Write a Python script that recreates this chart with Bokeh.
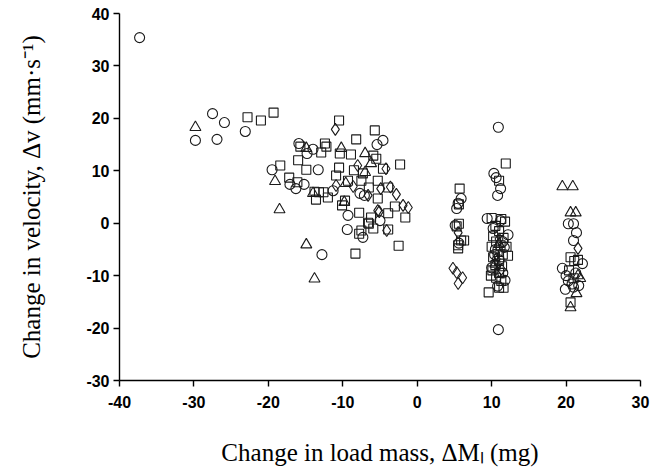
from bokeh.plotting import figure
from bokeh.models import Range1d, FixedTicker
from bokeh.embed import file_html
from bokeh.resources import INLINE

# ---- data ----
circle_x = [-37.3, -29.8, -27.5, -26.9, -25.9, -23.1, -19.5, -17.1, -16.3, -15.2, -15.9, -14.8, -14.0,
            -13.3, -11.3, -9.3, -9.4, -7.7, -7.1, -7.3, -5.4, -4.6, -5.0, -12.8,
            5.9, 5.5, 5.3, 5.1, 5.6,
            10.9, 10.3, 10.6, 11.2, 10.8, 9.4, 12.2, 11.8, 10.9, 10.2, 11.5, 10.5, 11.0, 10.0, 11.5,
            10.8, 11.2, 10.4, 11.7,
            20.3, 21.0, 21.4, 21.0, 22.2, 19.5, 20.0, 20.3, 20.8, 21.0, 21.7, 21.3, 19.9]
circle_y = [35.4, 15.8, 20.9, 16.0, 19.2, 17.5, 10.2, 7.4, 6.6, 7.4, 15.2, 13.3, 14.1,
            10.2, 6.2, 1.5, -1.2, 5.7, 5.3, -2.7, 15.0, 15.8, 0.5, -6.0,
            4.7, 3.8, 2.8, -0.4, -3.8,
            18.3, 9.5, 8.7, 6.6, 5.3, 0.9, -2.2, -10.9, -20.3, -1.0, -3.5, -5.0, -7.0, -8.5, -9.5,
            -12.0, 0.5, -6.0, -4.6,
            -0.1, -0.1, -1.8, -3.3, -7.7, -8.6, -10.0, -11.0, -11.6, -12.2, -11.9, -9.5, -12.6]

square_x = [-22.8, -21.0, -19.3, -18.4, -17.2, -16.1, -16.0, -15.7, -14.9, -12.9, -12.4, -12.2, -13.8,
            -13.2, -13.6, -12.6, -12.0, -10.5, -10.4, -8.9, -8.2, -10.5, -10.9, -9.7, -10.1, -8.5,
            -9.3, -7.5, -7.8, -7.5, -7.3, -6.5, -6.5, -5.9, -5.5, -5.7, -4.6, -5.3, -5.3, -5.9, -3.9,
            -2.3, -3.0, -1.6, -3.9, -3.9, -2.5, -6.6, -8.3, -6.2, -7.8,
            5.7, 5.6, 5.6, 5.3, 5.9, 6.3, 5.5, 5.5,
            11.9, 11.0, 12.2, 9.6, 11.0, 11.6, 10.0, 11.3, 11.8, 10.5, 11.0, 10.2, 11.6, 10.6, 11.2,
            10.0, 12.0, 10.8, 11.5, 10.2, 11.0, 10.5, 11.4, 10.1, 11.0, 10.6, 9.9, 11.3,
            20.6, 21.1, 21.6, 20.6, 20.4, 21.0]
square_y = [20.2, 19.6, 21.1, 11.0, 8.7, 7.8, 12.0, 14.6, 10.2, 13.5, 15.2, 14.6, 6.0,
            5.9, 4.5, 5.9, 4.9, 19.6, 13.3, 13.1, 16.0, 10.6, 9.1, 4.3, 3.4, 10.1,
            8.1, 8.1, 2.0, -1.4, 9.5, 6.8, -0.1, 12.9, 12.3, 17.7, 10.4, 8.1, 4.7, -1.0, 6.8,
            11.2, 3.2, 1.1, 1.9, -1.2, -4.3, 0.1, -5.8, 1.1, -2.0,
            6.6, 3.6, -0.1, -0.6, -3.3, -3.3, -4.8, -4.2,
            11.4, 8.1, -6.2, -13.2, -12.3, -12.3, 1.0, 0.8, 0.3, -0.5, -1.5, -2.5, -2.8, -3.5, -4.2,
            -4.5, -4.5, -5.5, -6.0, -6.5, -7.2, -8.0, -8.2, -9.0, -9.5, -10.4, -10.0, -11.0,
            -6.5, -7.2, -7.0, -15.1, -9.0, -10.5]

triangle_x = [-29.8, -19.1, -18.5, -14.9, -14.0, -10.2, -9.6, -9.8, -7.0, -7.0, -6.2, -14.9, -13.8,
              11.0, 10.5,
              19.5, 20.9, 20.6, 21.3, 21.6, 21.9, 21.4, 20.6]
triangle_y = [18.3, 8.0, 2.6, 14.3, 5.7, 14.3, 7.6, 4.0, 13.3, 9.7, 11.4, -4.1, -10.6,
              -4.0, -7.8,
              7.0, 7.0, 2.0, 2.0, -10.0, -10.5, -13.4, -16.1]

diamond_x = [-11.0, -10.9, -8.0, -6.6, -4.2, -4.9, -5.1, -4.1, -1.9, -1.2, -3.6, -2.8, -5.3, -8.6,
             5.5, 4.8, 5.3, 6.1, 5.5,
             11.0, 10.6, 11.3,
             21.6]
diamond_y = [17.9, 7.2, 11.0, 5.3, 10.4, 6.6, 2.2, -1.4, 3.4, 3.0, 6.9, 5.5, 2.4, 7.0,
             -1.8, -8.6, -9.4, -10.4, -11.5,
             -3.0, -6.8, -8.8,
             -4.8]

x_ticks = [-40, -30, -20, -10, 0, 10, 20, 30]
y_ticks = [-30, -20, -10, 0, 10, 20, 30, 40]
x_tick_labels = ["-40", "-30", "-20", "-10", "0", "10", "20", "30"]
y_tick_labels = ["-30", "-20", "-10", "0", "10", "20", "30", "40"]

x_label = "Change in load mass, \u0394M\u2097 (mg)"
y_label = "Change in velocity, \u0394v (mm\u00b7s\u207b\u00b9)"

p = figure(width=662, height=469, output_backend="svg", toolbar_location=None,
           x_range=Range1d(-40, 30), y_range=Range1d(-30, 40),
           min_border_left=119, min_border_right=22, min_border_top=13, min_border_bottom=89)

p.grid.visible = False
p.outline_line_color = None
p.background_fill_color = "white"
p.border_fill_color = "white"

mk = dict(fill_color=None, line_color="#1a1a1a", line_width=1.1)
p.scatter(circle_x, circle_y, marker="circle", size=10, **mk)
p.scatter(square_x, square_y, marker="square", size=9, **mk)
p.scatter(triangle_x, triangle_y, marker="triangle", size=11, **mk)
p.scatter(diamond_x, diamond_y, marker="diamond", size=12, **mk)

p.xaxis.ticker = FixedTicker(ticks=x_ticks)
p.yaxis.ticker = FixedTicker(ticks=y_ticks)
p.xaxis.major_label_overrides = {t: s for t, s in zip(x_ticks, x_tick_labels)}
p.yaxis.major_label_overrides = {t: s for t, s in zip(y_ticks, y_tick_labels)}

for ax in (p.xaxis[0], p.yaxis[0]):
    ax.axis_line_color = "black"
    ax.axis_line_width = 1.4
    ax.major_tick_line_color = "black"
    ax.major_tick_line_width = 1.4
    ax.major_tick_in = 0
    ax.major_tick_out = 6
    ax.minor_tick_line_color = None
    ax.major_label_text_font = "Liberation Sans"
    ax.major_label_text_font_style = "bold"
    ax.major_label_text_font_size = "16px"
    ax.major_label_text_color = "black"
    ax.axis_label_text_font = "Liberation Serif"
    ax.axis_label_text_font_style = "normal"
    ax.axis_label_text_font_size = "25px"
    ax.axis_label_text_color = "black"

p.xaxis.axis_label = x_label
p.yaxis.axis_label = y_label
p.xaxis.major_label_standoff = 9
p.yaxis.major_label_standoff = 4
p.xaxis.axis_label_standoff = 28
p.yaxis.axis_label_standoff = 38

open("out.html", "w").write(file_html(p, INLINE))
